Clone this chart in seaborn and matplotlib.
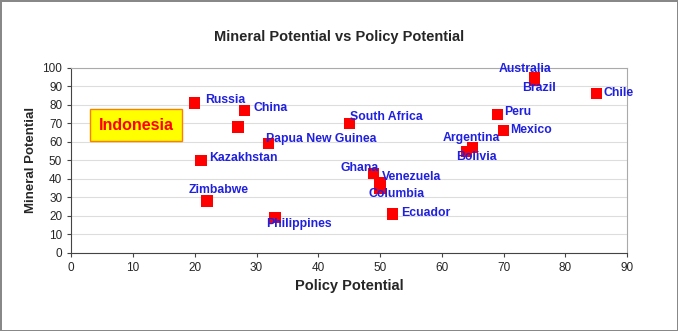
import pandas as pd
import matplotlib.pyplot as plt
import seaborn as sns

countries = ["Russia", "China", "Papua New Guinea", "Kazakhstan", "Zimbabwe",
             "Philippines", "South Africa", "Ghana", "Venezuela", "Columbia",
             "Ecuador", "Argentina", "Bolivia", "Peru", "Mexico", "Australia",
             "Brazil", "Chile"]
policy = [20, 28, 32, 21, 22, 33, 45, 49, 50, 50, 52, 65, 64, 69, 70, 75, 75, 85]
mineral = [81, 77, 59, 50, 28, 19, 70, 43, 38, 35, 21, 57, 55, 75, 66, 95, 93, 86]
# unlabeled point (Indonesia)
extra_x = [27]
extra_y = [68]

# label offsets in pixels
offsets = {
    "Russia": (10, 3), "China": (9, 2), "Papua New Guinea": (-3, 5),
    "Kazakhstan": (8, 2), "Zimbabwe": (-18, 11), "Philippines": (-9, -6),
    "South Africa": (1, 6), "Ghana": (-33, 5), "Venezuela": (2, 6),
    "Columbia": (-12, -6), "Ecuador": (9, 1), "Argentina": (-30, 9),
    "Bolivia": (-10, -6), "Peru": (7, 2), "Mexico": (7, 1),
    "Australia": (-36, 8), "Brazil": (-12, -7), "Chile": (7, 1),
}

df = pd.DataFrame({"Country": countries + ["Indonesia"],
                   "Policy": policy + extra_x,
                   "Mineral": mineral + extra_y})

sns.set_style("white")
plt.rcParams["font.family"] = ["Liberation Sans", "DejaVu Sans"]

fig = plt.figure(figsize=(6.78, 3.31), dpi=100, edgecolor="#888888", linewidth=2)
ax = fig.add_axes([0.105, 0.236, 0.82, 0.559])

ax.yaxis.grid(True, color="#dddddd", linewidth=0.8)
ax.set_axisbelow(True)
sns.scatterplot(data=df, x="Policy", y="Mineral", marker="s", s=65,
                color="#ff0000", edgecolor="none", ax=ax, zorder=3)

for c, x, y in zip(countries, policy, mineral):
    dx, dy = offsets[c]
    ax.annotate(c, (x, y), xytext=(dx, dy), textcoords="offset pixels",
                ha="left", va="center", color="#2020e0", fontsize=8.8,
                fontweight="bold", zorder=4)

ax.text(10.5, 69, "Indonesia", ha="center", va="center", color="#ff0000",
        fontsize=11.5, fontweight="bold",
        bbox=dict(boxstyle="square,pad=0.55", facecolor="#ffff00",
                  edgecolor="#ff8000", linewidth=1))

ax.set_xlim(0, 90)
ax.set_ylim(0, 100)
ax.set_xticks(range(0, 91, 10))
ax.set_yticks(range(0, 101, 10))
ax.tick_params(axis="both", labelsize=8.5, length=3, direction="out",
               bottom=True, left=True, color="#444444")
for side in ["left", "bottom"]:
    ax.spines[side].set_color("#444444")
for side in ["top", "right"]:
    ax.spines[side].set_color("#aaaaaa")
    ax.spines[side].set_visible(True)

ax.set_xlabel("Policy Potential", fontsize=10.5, fontweight="bold")
ax.set_ylabel("Mineral Potential", fontsize=9.5, fontweight="bold")
fig.suptitle("Mineral Potential vs Policy Potential", y=0.888, va="center",
             fontsize=10.5, fontweight="bold")

fig.savefig("out.png", dpi=100)
